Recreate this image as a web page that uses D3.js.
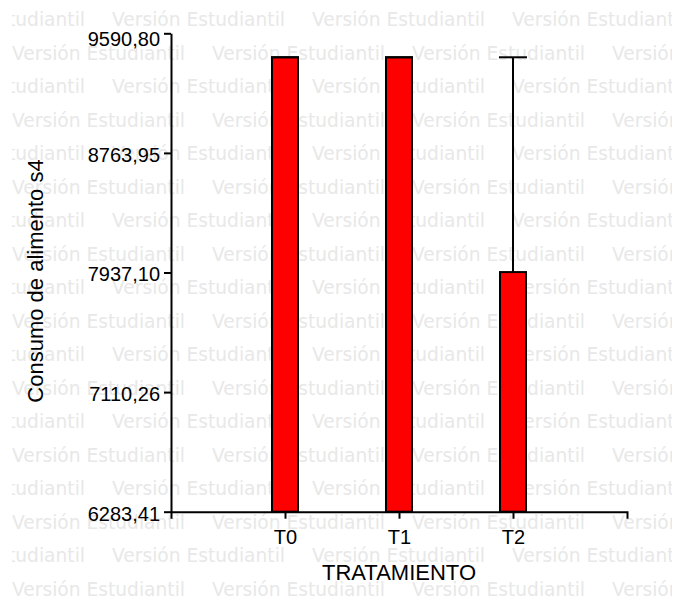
<!DOCTYPE html>
<html>
<head>
<meta charset="utf-8">
<script src="https://cdn.jsdelivr.net/npm/d3@7"></script>
<style>
  body { margin: 0; background: #fff; }
  svg { display: block; }
</style>
</head>
<body>
<div id="chart"></div>
<script>
// data
var categories = ["T0", "T1", "T2"];
var means = [9425, 9425, 7940];
var errors = [0, 0, 1485];
var yTicks = [6283.41, 7110.26, 7937.10, 8763.95, 9590.80];
var xTitle = "TRATAMIENTO";
var yTitle = "Consumo de alimento s4";
var watermark = "Versión Estudiantil";

var width = 684, height = 608;
var fontMain = "'Liberation Sans', Arial, sans-serif";

var locale = d3.formatLocale({decimal: ",", thousands: "", grouping: [3], currency: ["", ""]});
var fmt = locale.format(".2f");

var svg = d3.select("#chart").append("svg")
    .attr("width", width)
    .attr("height", height);

svg.append("rect").attr("width", width).attr("height", height).attr("fill", "#fff");

// background watermark
svg.append("defs").append("clipPath")
    .attr("id", "wmclip")
    .append("rect")
    .attr("x", 12).attr("y", 0)
    .attr("width", 660).attr("height", height);

var wm = svg.append("g").attr("clip-path", "url(#wmclip)");
var rows = d3.range(18);
rows.forEach(function (i) {
    var x0 = (i % 2 === 0) ? -88 : 12;
    d3.range(5).forEach(function (k) {
        wm.append("text")
            .attr("x", x0 + k * 200)
            .attr("y", 26 + i * 33.5)
            .attr("textLength", 173)
            .attr("lengthAdjust", "spacingAndGlyphs")
            .style("font-family", "'DejaVu Sans', sans-serif")
            .style("font-size", "20px")
            .attr("fill", "#e8e8e8")
            .text(watermark);
    });
});

var x = d3.scalePoint().domain(categories).range([171, 627]).padding(1);
var y = d3.scaleLinear().domain([yTicks[0], yTicks[yTicks.length - 1]]).range([511.7, 33.3]);

var barW = 26;

// bars
svg.selectAll(".bar")
    .data(categories)
    .enter().append("rect")
    .attr("class", "bar")
    .attr("x", function (d) { return x(d) - barW / 2; })
    .attr("y", function (d, i) { return y(means[i]); })
    .attr("width", barW)
    .attr("height", function (d, i) { return y(yTicks[0]) - y(means[i]); })
    .attr("fill", "#ff0000")
    .attr("stroke", "#000")
    .attr("stroke-width", 2);

// error bars
var eb = svg.selectAll(".err")
    .data(categories)
    .enter().append("g")
    .attr("class", "err")
    .attr("stroke", "#000")
    .attr("stroke-width", 2);

eb.append("line")
    .attr("x1", function (d) { return x(d); })
    .attr("x2", function (d) { return x(d); })
    .attr("y1", function (d, i) { return y(means[i]); })
    .attr("y2", function (d, i) { return y(means[i] + errors[i]); });

eb.append("line")
    .attr("x1", function (d) { return x(d) - 14; })
    .attr("x2", function (d) { return x(d) + 14; })
    .attr("y1", function (d, i) { return y(means[i] + errors[i]); })
    .attr("y2", function (d, i) { return y(means[i] + errors[i]); });

// y axis
var yAxis = d3.axisLeft(y)
    .tickValues(yTicks)
    .tickFormat(fmt)
    .tickSize(7)
    .tickSizeOuter(0)
    .tickPadding(4);

var gy = svg.append("g")
    .attr("transform", "translate(171,0)")
    .call(yAxis);
gy.select(".domain").attr("stroke-width", 2);
gy.selectAll(".tick line").attr("stroke-width", 2);
gy.selectAll(".tick text")
    .style("font-family", fontMain)
    .style("font-size", "20px")
    .attr("fill", "#000")
    .attr("dy", function (d) { return d === yTicks[yTicks.length - 1] ? "0.6em" : "0.42em"; });

// x axis
var xAxis = d3.axisBottom(x)
    .tickSize(7)
    .tickSizeOuter(7)
    .tickPadding(11);

var gx = svg.append("g")
    .attr("transform", "translate(0," + y(yTicks[0]) + ")")
    .call(xAxis);
gx.select(".domain").attr("stroke-width", 2);
gx.selectAll(".tick line").attr("stroke-width", 2);
gx.selectAll(".tick text")
    .style("font-family", fontMain)
    .style("font-size", "20px")
    .attr("fill", "#000");

// titles
svg.append("text")
    .attr("x", 399)
    .attr("y", 580)
    .attr("text-anchor", "middle")
    .style("font-family", fontMain)
    .style("font-size", "22px")
    .text(xTitle);

svg.append("text")
    .attr("transform", "translate(43,281) rotate(-90)")
    .attr("text-anchor", "middle")
    .style("font-family", fontMain)
    .style("font-size", "22px")
    .text(yTitle);
</script>
</body>
</html>
